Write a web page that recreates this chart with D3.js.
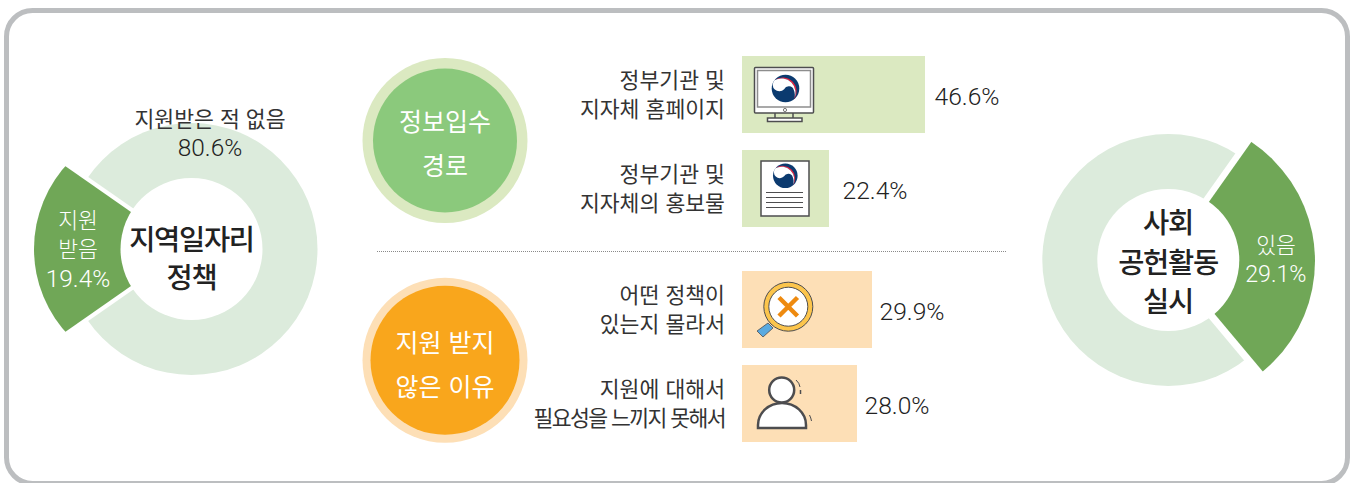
<!DOCTYPE html>
<html lang="ko">
<head>
<meta charset="utf-8">
<script src="https://cdn.jsdelivr.net/npm/d3@7"></script>
<style>
  html, body { margin: 0; padding: 0; background: #fff; overflow: hidden; }
  text { font-family: "Noto Sans CJK KR", "Noto Sans", sans-serif; }
  .num { font-family: Roboto, "Liberation Sans", sans-serif; font-weight: 300; }
</style>
</head>
<body>
<div id="chart"></div>
<script>
// DATA
const policyLabels = ["지원 받음", "지원받은 적 없음"];
const policyValues = [19.4, 80.6];
const activityLabels = ["있음", "없음"];
const activityValues = [29.1, 70.9];

const channelLabels = [["정부기관 및", "지자체 홈페이지"], ["정부기관 및", "지자체의 홍보물"]];
const channelValues = [46.6, 22.4];
const reasonLabels = [["어떤 정책이", "있는지 몰라서"], ["지원에 대해서", "필요성을 느끼지 못해서"]];
const reasonValues = [29.9, 28.0];

// SET UP
const svg = d3.select("#chart").append("svg")
    .attr("width", 1353)
    .attr("height", 483);

const colors = {
    frame: "#bcbec0", ink: "#333333", ringLight: "#dcebdc", ringDark: "#70a757",
    greenBar: "#dbe9c1", greenDisc: "#8bc97c", orangeBar: "#fddfb6", orangeDisc: "#f9a61c"
};

// outer frame, bottom edge runs off the picture
svg.append("rect")
    .attr("x", 6.5).attr("y", 10.5)
    .attr("width", 1341).attr("height", 473)
    .attr("rx", 26).attr("ry", 26)
    .attr("fill", "#fff")
    .attr("stroke", colors.frame)
    .attr("stroke-width", 5);

// DONUTS
// the dark slice is pulled away from the ring and has its own bulge, so it gets a clip circle
function drawDonut(cfg) {
    const g = svg.append("g");
    const pie = d3.pie().sort(null).startAngle(cfg.start).endAngle(cfg.start + 2 * Math.PI);
    const slice = pie(cfg.values)[0];

    g.append("circle")
        .attr("cx", cfg.cx).attr("cy", cfg.cy).attr("r", 126)
        .attr("fill", colors.ringLight);

    // white gap cut out of the ring
    g.append("path")
        .attr("transform", `translate(${cfg.gapX},${cfg.gapY})`)
        .attr("d", d3.arc().innerRadius(0).outerRadius(150)(slice))
        .attr("fill", "#fff");

    const clipId = "clip-" + cfg.id;
    svg.append("clipPath").attr("id", clipId)
        .append("circle")
        .attr("cx", cfg.bulgeX).attr("cy", cfg.bulgeY).attr("r", cfg.bulgeR);

    g.append("g")
        .attr("clip-path", `url(#${clipId})`)
        .append("path")
        .attr("transform", `translate(${cfg.sliceX},${cfg.sliceY})`)
        .attr("d", d3.arc().innerRadius(0).outerRadius(220)(slice))
        .attr("fill", colors.ringDark);

    g.append("circle")
        .attr("cx", cfg.cx).attr("cy", cfg.cy).attr("r", 71)
        .attr("fill", "#fff");
}

const tau = 2 * Math.PI;
const policyShare = policyValues[0] / d3.sum(policyValues);
const activityShare = activityValues[0] / d3.sum(activityValues);

drawDonut({
    id: "policy", values: policyValues,
    start: tau * 0.75 - policyShare * tau / 2,
    cx: 191.5, cy: 249,
    gapX: 191.5, gapY: 249,
    sliceX: 184, sliceY: 249,
    bulgeX: 159, bulgeY: 249, bulgeR: 125
});
drawDonut({
    id: "activity", values: activityValues,
    start: tau * 0.2435 - activityShare * tau / 2,
    cx: 1168.3, cy: 260,
    gapX: 1160, gapY: 260,
    sliceX: 1168.5, sliceY: 259,
    bulgeX: 1172, bulgeY: 261, bulgeR: 143
});

function multiline(x, y, lines, step, size, fill, weight, anchor, spacing) {
    const t = svg.append("text")
        .attr("x", x).attr("y", y)
        .attr("text-anchor", anchor || "middle")
        .attr("font-size", size)
        .attr("font-weight", weight || 400)
        .attr("letter-spacing", spacing || 0)
        .attr("fill", fill);
    lines.forEach((l, i) => {
        const s = t.append("tspan").attr("x", x).attr("y", y + i * step).text(l);
        // the one long label is set tighter in the original
        if (l.length > 10) s.attr("letter-spacing", -1.6);
    });
    return t;
}

function percent(x, y, value, size, fill, anchor) {
    svg.append("text").attr("class", "num")
        .attr("x", x).attr("y", y)
        .attr("text-anchor", anchor || "middle")
        .attr("font-size", size)
        .attr("fill", fill)
        .text(value.toFixed(1) + "%");
}

// donut texts
multiline(210, 127, [policyLabels[1]], 0, 21.6, colors.ink, 400);
percent(210, 155.5, policyValues[1], 24.4, "#222");

multiline(78, 228, ["지원", "받음"], 29, 21.6, "#fff", 300);
percent(78, 286.5, policyValues[0], 24.4, "#fff");

multiline(191.5, 250, ["지역일자리", "정책"], 38, 28.5, "#222", 500, "middle", -1.3);

multiline(1276, 253, [activityLabels[0]], 0, 21.6, "#fff", 300);
percent(1275.8, 282, activityValues[0], 23.2, "#fff");

multiline(1168, 233, ["사회", "공헌활동", "실시"], 39.5, 28.5, "#222", 500, "middle", -1.3);

// LEFT DISCS
function drawDisc(cy, r, ring, disc, lines, first) {
    svg.append("circle").attr("cx", 445).attr("cy", cy).attr("r", 82.5).attr("fill", ring);
    svg.append("circle").attr("cx", 445).attr("cy", cy).attr("r", r).attr("fill", disc);
    multiline(445, first, lines, 43.5, 25, "#fff", 400);
}
drawDisc(140.5, 72, colors.greenBar, colors.greenDisc, ["정보입수", "경로"], 131);
drawDisc(360.3, 74.5, colors.orangeBar, colors.orangeDisc, ["지원 받지", "않은 이유"], 352);

// dotted divider
svg.append("line")
    .attr("x1", 377).attr("x2", 1006)
    .attr("y1", 251.5).attr("y2", 251.5)
    .attr("stroke", "#8a8a8a")
    .attr("stroke-dasharray", "1 1");

// BARS
// the printed bars are not quite proportional, so the width scale is piecewise through them
const widthScale = d3.scaleLinear()
    .domain([22.4, 28.0, 29.9, 46.6])
    .range([87, 115, 130, 183]);

function drawBars(values, labels, top, bottom, fill, gaps) {
    const yScale = d3.scaleBand()
        .domain(d3.range(values.length))
        .range([top, bottom])
        .paddingInner(0.181);

    values.forEach((v, i) => {
        const y = yScale(i);
        svg.append("rect")
            .attr("x", 742).attr("y", y)
            .attr("width", widthScale(v))
            .attr("height", yScale.bandwidth())
            .attr("fill", fill);

        percent(742 + widthScale(v) + gaps[i], y + 49, v, 24.6, "#222", "start");

        multiline(725, y + 31.5, labels[i], 29, 21.6, colors.ink, 400, "end");
    });
}
drawBars(channelValues, channelLabels, 56, 227, colors.greenBar, [9.5, 13.5]);
drawBars(reasonValues, reasonLabels, 271, 442, colors.orangeBar, [7.5, 7.5]);

// ICONS
const iconStroke = "#4d4d4f";

// taegeuk mark in unit coords: navy disc, thin red crescent, white S band
function taegeuk(cx, cy, r) {
    const g = svg.append("g").attr("transform", `translate(${cx},${cy}) scale(${r})`);
    g.append("circle").attr("r", 1).attr("fill", "#0b3a6f");
    g.append("path")
        .attr("d", "M-0.8,-0.6 A1,1 0 0 1 0.6,0.8 A1.03,1.03 0 0 0 -0.8,-0.6 Z")
        .attr("fill", "#e8213f");
    g.append("path")
        .attr("d", "M-0.8,-0.6 A1.03,1.03 0 0 1 0.6,0.8 A0.85,0.85 0 0 0 0.6,0.1 A0.38,0.38 0 0 0 -0.1,0.05 A0.42,0.42 0 0 1 -0.8,-0.6 Z")
        .attr("fill", "#fff");
}

// monitor
const mon = svg.append("g").attr("fill", "none").attr("stroke", iconStroke);
mon.append("rect").attr("x", 754.5).attr("y", 67.5).attr("width", 59).attr("height", 45.5).attr("rx", 1)
    .attr("fill", "#fff").attr("stroke-width", 1.5);
mon.append("rect").attr("x", 757.5).attr("y", 70.5).attr("width", 53).attr("height", 36.5)
    .attr("stroke", "#8d8d8d").attr("stroke-width", 1.5);
mon.append("path").attr("d", "M775,113V118M793,113V118").attr("stroke-width", 1.5);
mon.append("rect").attr("x", 767.5).attr("y", 118).attr("width", 34.5).attr("height", 3.5)
    .attr("fill", "#fff").attr("stroke-width", 1.5);
mon.append("circle").attr("cx", 785).attr("cy", 110).attr("r", 1.6).attr("stroke", "#777").attr("stroke-width", 1);
taegeuk(785.5, 88.5, 13.8);

// printed sheet
const doc = svg.append("g").attr("fill", "none").attr("stroke", iconStroke);
doc.append("rect").attr("x", 761).attr("y", 161).attr("width", 48).attr("height", 55)
    .attr("fill", "#fff").attr("stroke-width", 1.5);
[192, 197, 202, 207].forEach(y => {
    doc.append("line").attr("x1", 766).attr("x2", 803).attr("y1", y + 0.5).attr("y2", y + 0.5).attr("stroke-width", 1);
});
taegeuk(785.3, 175.7, 12.3);

// magnifier
const mag = svg.append("g");
mag.append("path").attr("d", "M768,324 L773,329 L763,338 L757,332 Z")
    .attr("transform", "translate(0,-1)")
    .attr("fill", "#5aaae0").attr("stroke", iconStroke).attr("stroke-width", 0.8);
mag.append("line").attr("x1", 770).attr("y1", 322).attr("x2", 773).attr("y2", 319)
    .attr("stroke", iconStroke).attr("stroke-width", 1.5);
mag.append("circle").attr("cx", 788.3).attr("cy", 306.7).attr("r", 24.5)
    .attr("fill", "#fcc54c").attr("stroke", iconStroke).attr("stroke-width", 1);
mag.append("circle").attr("cx", 788.3).attr("cy", 306.7).attr("r", 19.5)
    .attr("fill", "#fff").attr("stroke", iconStroke).attr("stroke-width", 1);
mag.append("path").attr("d", "M779,297.5 L797.5,316 M797.5,297.5 L779,316")
    .attr("stroke", "#ee8a0f").attr("stroke-width", 4.5).attr("fill", "none");

// person
const person = svg.append("g").attr("fill", "#fff").attr("stroke", iconStroke).attr("stroke-width", 2.5);
person.append("path").attr("d", "M758,428 V425 A24,22 0 0 1 806,425 V428 Z");
person.append("circle").attr("cx", 781.7).attr("cy", 390).attr("r", 12.5);
const ticks = svg.append("g").attr("fill", "none").attr("stroke", iconStroke).attr("stroke-width", 1);
ticks.append("path").attr("d", "M796,380 Q799.5,383 800,387");
ticks.append("path").attr("d", "M800.5,390 L800.5,394").attr("stroke-width", 1.5);
ticks.append("path").attr("d", "M809.5,415 Q811,418 811.5,421");
</script>
</body>
</html>
